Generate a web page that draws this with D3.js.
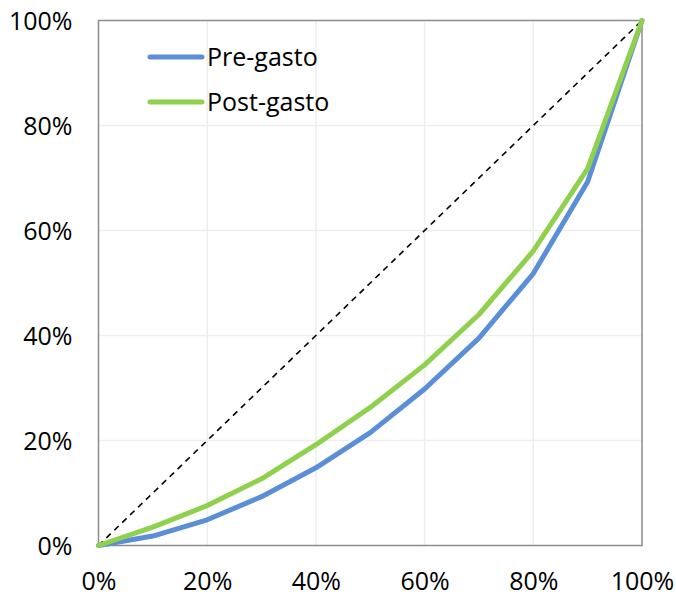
<!DOCTYPE html>
<html>
<head>
<meta charset="utf-8">
<script src="https://cdn.jsdelivr.net/npm/d3@7"></script>
<style>
  html, body { margin: 0; padding: 0; background: #fff; }
  svg { display: block; }
  text { font-family: "Open Sans", "Noto Sans", sans-serif; fill: #000; }
</style>
</head>
<body>
<svg id="chart" width="676" height="598"></svg>
<script>
// Cumulative population share (deciles)
const populationShare = [0, 0.1, 0.2, 0.3, 0.4, 0.5, 0.6, 0.7, 0.8, 0.9, 1.0];
// Cumulative income share before and after spending
const preGasto  = [0, 0.018, 0.049, 0.093, 0.148, 0.215, 0.298, 0.395, 0.518, 0.693, 1.0];
const postGasto = [0, 0.035, 0.076, 0.127, 0.192, 0.263, 0.344, 0.440, 0.561, 0.718, 1.0];
const seriesNames = ["Pre-gasto", "Post-gasto"];
const tickValues = [0, 0.2, 0.4, 0.6, 0.8, 1.0];

const svg = d3.select("#chart");
const margin = { left: 98.5, top: 20.5, right: 642, bottom: 545.5 };
const fontSize = 25;

const x = d3.scaleLinear().domain([0, 1]).range([margin.left, margin.right]);
const y = d3.scaleLinear().domain([0, 1]).range([margin.bottom, margin.top]);
const fmt = d3.format(".0%");

// Gridlines
const grid = svg.append("g");
grid.selectAll("line.v").data(tickValues.slice(1, -1)).join("line")
  .attr("x1", d => x(d)).attr("x2", d => x(d))
  .attr("y1", y(0)).attr("y2", y(1))
  .attr("stroke", "#eeeeee").attr("stroke-width", 1.5);
grid.selectAll("line.h").data(tickValues.slice(1, -1)).join("line")
  .attr("y1", d => y(d)).attr("y2", d => y(d))
  .attr("x1", x(0)).attr("x2", x(1))
  .attr("stroke", "#eeeeee").attr("stroke-width", 1.5);

// Axes (labels only; frame drawn separately)
const xAxis = svg.append("g")
  .attr("transform", `translate(0,${y(0)})`)
  .call(d3.axisBottom(x).tickValues(tickValues).tickFormat(fmt).tickSize(0).tickPadding(27));
const yAxis = svg.append("g")
  .attr("transform", `translate(${x(0)},0)`)
  .call(d3.axisLeft(y).tickValues(tickValues).tickFormat(fmt).tickSize(0).tickPadding(26));
[xAxis, yAxis].forEach(g => {
  g.select(".domain").remove();
  g.selectAll("text").attr("font-size", fontSize)
    .attr("font-family", "'Open Sans', 'Noto Sans', sans-serif").attr("fill", "#000");
});
xAxis.selectAll("text").attr("dy", "0.71em");
yAxis.selectAll("text").attr("dy", "0.35em");

// Frame
svg.append("rect")
  .attr("x", x(0)).attr("y", y(1))
  .attr("width", x(1) - x(0)).attr("height", y(0) - y(1))
  .attr("fill", "none").attr("stroke", "#8c8c8c").attr("stroke-width", 1.5);

// Line of equality
svg.append("line")
  .attr("x1", x(0)).attr("y1", y(0)).attr("x2", x(1)).attr("y2", y(1))
  .attr("stroke", "#000").attr("stroke-width", 1.6).attr("stroke-dasharray", "6,5");

const line = d3.line().x(d => x(d[0])).y(d => y(d[1]));
const colors = ["#5a8fd8", "#8fd04c"];
[preGasto, postGasto].forEach((vals, i) => {
  svg.append("path")
    .datum(populationShare.map((p, j) => [p, vals[j]]))
    .attr("d", line)
    .attr("fill", "none")
    .attr("stroke", colors[i])
    .attr("stroke-width", 5)
    .attr("stroke-linejoin", "round")
    .attr("stroke-linecap", "round");
});

// Legend
const legend = svg.append("g");
seriesNames.forEach((name, i) => {
  const ly = 57 + i * 45;
  legend.append("line")
    .attr("x1", 150).attr("x2", 202).attr("y1", ly).attr("y2", ly)
    .attr("stroke", colors[i]).attr("stroke-width", 5).attr("stroke-linecap", "round");
  legend.append("text")
    .attr("x", 207).attr("y", ly).attr("dy", "0.35em")
    .attr("font-size", fontSize).attr("fill", "#333")
    .text(name);
});
</script>
</body>
</html>
